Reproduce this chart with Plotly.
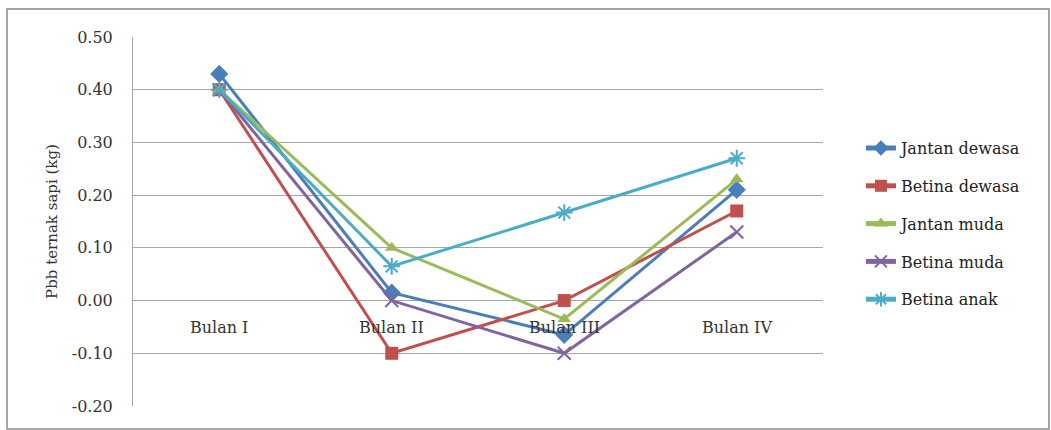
import plotly.graph_objects as go

# Monthly weight gain (kg/day) of cattle groups
months = ["Bulan I", "Bulan II", "Bulan III", "Bulan IV"]
jantan_dewasa = [0.43, 0.015, -0.065, 0.21]
betina_dewasa = [0.40, -0.10, 0.00, 0.17]
jantan_muda = [0.40, 0.10, -0.035, 0.23]
betina_muda = [0.40, 0.00, -0.10, 0.13]
betina_anak = [0.40, 0.065, 0.167, 0.27]
y_ticks = [-0.2, -0.1, 0.0, 0.1, 0.2, 0.3, 0.4, 0.5]

series = [
    ("Jantan dewasa", jantan_dewasa, "#4A7EBB", "diamond", 14, 0),
    ("Betina dewasa", betina_dewasa, "#C0504D", "square", 13, 0),
    ("Jantan muda", jantan_muda, "#9BBB59", "triangle-up", 12, 0),
    ("Betina muda", betina_muda, "#8064A2", "x-thin-open", 13, 2),
    ("Betina anak", betina_anak, "#4BACC6", "asterisk-open", 14, 2),
]

FONT = "DejaVu Serif"

fig = go.Figure()
for i, (name, vals, color, sym, size, mlw) in enumerate(series):
    fig.add_trace(go.Scatter(
        x=list(range(len(months))), y=vals, name=name, mode="lines+markers",
        legendgroup=f"g{i}",
        line=dict(color=color, width=3),
        marker=dict(symbol=sym, size=size, color=color,
                    line=dict(color=color, width=mlw)),
    ))

# category labels placed beside the zero line
for i, m in enumerate(months):
    fig.add_annotation(x=i, y=0, text=m, showarrow=False, yanchor="top",
                       yshift=-15, font=dict(family=FONT, size=16, color="#333333"))

# outer chart frame
fig.add_shape(type="rect", xref="paper", yref="paper",
              x0=-0.1826, x1=1.3275, y0=-0.0623, y1=1.0759,
              line=dict(color="#8a8a8a", width=1.5), layer="below")

fig.update_layout(
    width=1051, height=430,
    margin=dict(l=133, r=228, t=37, b=24),
    paper_bgcolor="white", plot_bgcolor="white",
    font=dict(family=FONT, size=16, color="#333333"),
    showlegend=True,
    legend=dict(x=1.055, y=0.745, xanchor="left", yanchor="top",
                font=dict(family=FONT, size=16, color="#222222"),
                tracegroupgap=14, itemsizing="constant"),
    xaxis=dict(range=[-0.5, 3.5], showticklabels=False, showgrid=False,
               zeroline=False, showline=False, ticks=""),
    yaxis=dict(range=[-0.2, 0.5], tickvals=y_ticks,
               ticktext=[f"{v:.2f}" for v in y_ticks],
               showgrid=True, gridcolor="#A6A6A6", gridwidth=1,
               zeroline=False, showline=True, linecolor="#A6A6A6", linewidth=1,
               ticks="", ticklabelstandoff=16,
               title=dict(text="Pbb ternak sapi (kg)", standoff=10,
                          font=dict(family=FONT, size=15, color="#333333"))),
)

fig.write_html("out.html")
